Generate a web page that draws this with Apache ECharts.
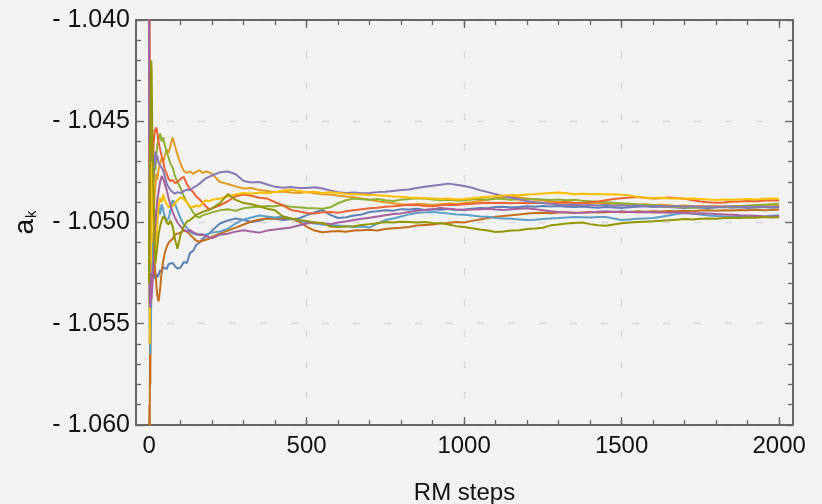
<!DOCTYPE html>
<html><head><meta charset="utf-8">
<script src="https://cdn.jsdelivr.net/npm/echarts@6/dist/echarts.min.js"></script>
<style>html,body{margin:0;padding:0;background:#f2f2f2}#c{width:822px;height:504px}</style>
</head><body><div id="c"></div>
<script>
// ---------- data ----------
const STEPS = [0,1,2,3,4,5,6,7,8,9,10,12,14,16,18,20,23,26,30,35,40,45,50,56,62,68,75,82,90,100,110,120,130,140,150,160,170,180,190,200,
225,250,275,300,325,350,375,400,425,450,475,500,525,550,575,600,625,650,675,700,725,750,775,800,825,850,875,900,925,950,975,1000,
1025,1050,1075,1100,1125,1150,1175,1200,1225,1250,1275,1300,1325,1350,1375,1400,1425,1450,1475,1500,1525,1550,1575,1600,1625,1650,
1675,1700,1725,1750,1775,1800,1825,1850,1875,1900,1925,1950,1975,2000];

const X_LABELS = [0,500,1000,1500,2000];
const X_MINOR = [0,100,200,300,400,500,600,700,800,900,1000,1100,1200,1300,1400,1500,1600,1700,1800,1900,2000];
const X_GRID = [500,1000,1500];
const Y_MIN = -1.060, Y_MAX = -1.040, Y_STEP = 0.005;

const BLUE = [-1.03500,-1.04400,-1.05200,-1.05700,-1.05480,-1.05350,-1.05300,-1.05270,-1.05290,-1.05250,
-1.05280,-1.05260,-1.05240,-1.05270,-1.05250,-1.05280,-1.05255,-1.05270,-1.05260,-1.05235,
-1.05245,-1.05220,-1.05215,-1.05230,-1.05205,-1.05212,-1.05200,-1.05215,-1.05228,-1.05222,
-1.05195,-1.05200,-1.05150,-1.05140,-1.05110,-1.05100,-1.05080,-1.05070,-1.05055,-1.05040,
-1.05005,-1.04990,-1.04980,-1.04988,-1.04997,-1.04992,-1.04978,-1.04982,-1.04988,-1.04984,
-1.04980,-1.04965,-1.04950,-1.04938,-1.04962,-1.04978,-1.04974,-1.04965,-1.04960,-1.04948,
-1.04945,-1.04940,-1.04942,-1.04934,-1.04936,-1.04932,-1.04938,-1.04935,-1.04937,-1.04933,
-1.04938,-1.04936,-1.04932,-1.04928,-1.04930,-1.04924,-1.04922,-1.04926,-1.04923,-1.04920,
-1.04922,-1.04918,-1.04921,-1.04919,-1.04922,-1.04924,-1.04921,-1.04925,-1.04927,-1.04924,
-1.04926,-1.04928,-1.04925,-1.04922,-1.04920,-1.04923,-1.04921,-1.04924,-1.04926,-1.04928,
-1.04925,-1.04927,-1.04929,-1.04926,-1.04924,-1.04927,-1.04925,-1.04928,-1.04926,-1.04924,
-1.04927,-1.04925];

const ORANGE = [-1.04700,-1.05150,-1.04650,-1.04950,-1.04800,-1.05100,-1.04900,-1.05000,-1.04850,-1.04960,
-1.04890,-1.04940,-1.04980,-1.04910,-1.04860,-1.04820,-1.04760,-1.04790,-1.04740,-1.04710,
-1.04680,-1.04700,-1.04670,-1.04640,-1.04655,-1.04620,-1.04580,-1.04620,-1.04665,-1.04710,
-1.04745,-1.04755,-1.04748,-1.04760,-1.04750,-1.04742,-1.04755,-1.04748,-1.04752,-1.04760,
-1.04800,-1.04810,-1.04822,-1.04832,-1.04830,-1.04840,-1.04845,-1.04850,-1.04847,-1.04852,
-1.04854,-1.04850,-1.04855,-1.04860,-1.04862,-1.04868,-1.04872,-1.04875,-1.04882,-1.04888,
-1.04895,-1.04900,-1.04905,-1.04910,-1.04912,-1.04908,-1.04910,-1.04914,-1.04910,-1.04906,
-1.04908,-1.04904,-1.04900,-1.04894,-1.04888,-1.04880,-1.04874,-1.04870,-1.04876,-1.04882,
-1.04888,-1.04892,-1.04896,-1.04900,-1.04898,-1.04902,-1.04904,-1.04902,-1.04905,-1.04908,
-1.04906,-1.04910,-1.04908,-1.04912,-1.04910,-1.04914,-1.04912,-1.04915,-1.04918,-1.04916,
-1.04920,-1.04918,-1.04921,-1.04919,-1.04922,-1.04920,-1.04918,-1.04921,-1.04919,-1.04917,
-1.04920,-1.04918];

const GREEN = [-1.05200,-1.04700,-1.05400,-1.04900,-1.05150,-1.04800,-1.05050,-1.04850,-1.04950,-1.04750,
-1.04880,-1.04800,-1.04720,-1.04780,-1.04700,-1.04740,-1.04670,-1.04620,-1.04590,-1.04560,
-1.04600,-1.04580,-1.04620,-1.04650,-1.04680,-1.04710,-1.04730,-1.04770,-1.04800,-1.04830,
-1.04870,-1.04900,-1.04925,-1.04950,-1.04970,-1.04975,-1.04965,-1.04960,-1.04955,-1.04950,
-1.04940,-1.04935,-1.04942,-1.04930,-1.04925,-1.04922,-1.04918,-1.04920,-1.04915,-1.04922,
-1.04925,-1.04928,-1.04930,-1.04932,-1.04925,-1.04905,-1.04890,-1.04882,-1.04885,-1.04888,
-1.04884,-1.04890,-1.04894,-1.04888,-1.04884,-1.04880,-1.04882,-1.04886,-1.04890,-1.04888,
-1.04892,-1.04890,-1.04887,-1.04884,-1.04886,-1.04882,-1.04884,-1.04888,-1.04885,-1.04887,
-1.04884,-1.04886,-1.04889,-1.04887,-1.04890,-1.04888,-1.04892,-1.04895,-1.04898,-1.04900,
-1.04903,-1.04905,-1.04907,-1.04910,-1.04912,-1.04914,-1.04918,-1.04922,-1.04924,-1.04925,
-1.04927,-1.04924,-1.04922,-1.04924,-1.04921,-1.04923,-1.04920,-1.04916,-1.04914,-1.04912,
-1.04910,-1.04908];

const RED = [-1.04100,-1.03800,-1.04300,-1.04500,-1.04200,-1.04400,-1.04700,-1.04450,-1.04600,-1.04800,
-1.04650,-1.04750,-1.04620,-1.04580,-1.04540,-1.04550,-1.04530,-1.04560,-1.04600,-1.04640,
-1.04670,-1.04700,-1.04740,-1.04760,-1.04785,-1.04795,-1.04790,-1.04805,-1.04800,-1.04785,
-1.04775,-1.04810,-1.04835,-1.04850,-1.04872,-1.04885,-1.04902,-1.04920,-1.04935,-1.04930,
-1.04915,-1.04895,-1.04870,-1.04862,-1.04868,-1.04878,-1.04882,-1.04900,-1.04915,-1.04938,
-1.04945,-1.04953,-1.04956,-1.04950,-1.04948,-1.04952,-1.04945,-1.04940,-1.04935,-1.04930,
-1.04927,-1.04922,-1.04920,-1.04916,-1.04912,-1.04914,-1.04918,-1.04920,-1.04915,-1.04912,
-1.04914,-1.04910,-1.04908,-1.04905,-1.04903,-1.04904,-1.04902,-1.04905,-1.04903,-1.04905,
-1.04902,-1.04904,-1.04906,-1.04903,-1.04901,-1.04904,-1.04902,-1.04900,-1.04896,-1.04890,
-1.04884,-1.04880,-1.04876,-1.04874,-1.04878,-1.04882,-1.04880,-1.04877,-1.04879,-1.04883,
-1.04890,-1.04896,-1.04900,-1.04903,-1.04901,-1.04898,-1.04896,-1.04894,-1.04895,-1.04892,
-1.04890,-1.04891];

const PURPLE = [-1.04900,-1.04500,-1.05300,-1.04800,-1.05100,-1.04650,-1.04950,-1.04750,-1.04900,-1.04700,
-1.04820,-1.04740,-1.04800,-1.04680,-1.04720,-1.04650,-1.04690,-1.04670,-1.04705,-1.04700,
-1.04730,-1.04745,-1.04770,-1.04810,-1.04825,-1.04840,-1.04850,-1.04858,-1.04850,-1.04855,
-1.04845,-1.04838,-1.04840,-1.04828,-1.04820,-1.04808,-1.04795,-1.04782,-1.04775,-1.04768,
-1.04752,-1.04748,-1.04762,-1.04795,-1.04802,-1.04800,-1.04812,-1.04824,-1.04828,-1.04825,
-1.04830,-1.04830,-1.04826,-1.04832,-1.04842,-1.04850,-1.04854,-1.04852,-1.04856,-1.04854,
-1.04850,-1.04848,-1.04844,-1.04840,-1.04837,-1.04830,-1.04824,-1.04818,-1.04814,-1.04808,
-1.04814,-1.04820,-1.04828,-1.04840,-1.04850,-1.04860,-1.04870,-1.04878,-1.04885,-1.04895,
-1.04900,-1.04904,-1.04908,-1.04912,-1.04914,-1.04912,-1.04915,-1.04913,-1.04916,-1.04914,
-1.04917,-1.04915,-1.04918,-1.04916,-1.04919,-1.04920,-1.04918,-1.04921,-1.04919,-1.04922,
-1.04920,-1.04923,-1.04921,-1.04924,-1.04922,-1.04920,-1.04923,-1.04921,-1.04924,-1.04922,
-1.04923,-1.04922];

const DARK_ORANGE = [-1.06200,-1.05900,-1.06100,-1.05600,-1.05800,-1.05400,-1.05500,-1.05300,-1.05350,-1.05200,
-1.05300,-1.05150,-1.05250,-1.05100,-1.05200,-1.05250,-1.05300,-1.05360,-1.05390,-1.05330,
-1.05240,-1.05190,-1.05150,-1.05120,-1.05100,-1.05090,-1.05080,-1.05060,-1.05055,-1.05050,
-1.05040,-1.05045,-1.05060,-1.05075,-1.05090,-1.05095,-1.05090,-1.05085,-1.05080,-1.05070,
-1.05055,-1.05040,-1.05025,-1.05010,-1.04995,-1.04985,-1.04980,-1.04982,-1.04978,-1.04980,
-1.04995,-1.05020,-1.05040,-1.05048,-1.05045,-1.05042,-1.05046,-1.05040,-1.05038,-1.05036,
-1.05040,-1.05032,-1.05028,-1.05026,-1.05022,-1.05015,-1.05012,-1.05010,-1.05004,-1.05002,
-1.04998,-1.05000,-1.04992,-1.04985,-1.04978,-1.04972,-1.04968,-1.04964,-1.04960,-1.04956,
-1.04953,-1.04952,-1.04954,-1.04951,-1.04949,-1.04952,-1.04950,-1.04948,-1.04951,-1.04949,
-1.04947,-1.04950,-1.04948,-1.04945,-1.04947,-1.04944,-1.04946,-1.04943,-1.04945,-1.04942,
-1.04944,-1.04941,-1.04940,-1.04942,-1.04939,-1.04941,-1.04938,-1.04940,-1.04937,-1.04939,
-1.04938,-1.04936];

const LIGHT_BLUE = [-1.04800,-1.05300,-1.05600,-1.05400,-1.05650,-1.05300,-1.05500,-1.05200,-1.05350,-1.05100,
-1.05200,-1.05050,-1.05150,-1.04950,-1.05080,-1.05000,-1.04940,-1.04980,-1.04920,-1.04960,
-1.04910,-1.04940,-1.04970,-1.04990,-1.04980,-1.04940,-1.04890,-1.04905,-1.04940,-1.04980,
-1.05010,-1.05025,-1.05045,-1.05055,-1.05060,-1.05058,-1.05062,-1.05060,-1.05055,-1.05050,
-1.05045,-1.05030,-1.05005,-1.04985,-1.04975,-1.04965,-1.04970,-1.04975,-1.04970,-1.04980,
-1.04990,-1.05000,-1.05005,-1.05010,-1.05012,-1.05015,-1.05018,-1.05022,-1.05020,-1.05025,
-1.05005,-1.04988,-1.04980,-1.04970,-1.04960,-1.04953,-1.04950,-1.04948,-1.04952,-1.04955,
-1.04960,-1.04962,-1.04965,-1.04970,-1.04972,-1.04978,-1.04980,-1.04982,-1.04985,-1.04988,
-1.04986,-1.04983,-1.04980,-1.04978,-1.04975,-1.04973,-1.04974,-1.04975,-1.04973,-1.04973,
-1.04980,-1.04988,-1.04985,-1.04982,-1.04980,-1.04978,-1.04972,-1.04965,-1.04958,-1.04953,
-1.04955,-1.04960,-1.04965,-1.04968,-1.04970,-1.04972,-1.04973,-1.04973,-1.04972,-1.04970,
-1.04967,-1.04964];

const YELLOW = [-1.05300,-1.04600,-1.05600,-1.05000,-1.05400,-1.04700,-1.05200,-1.04850,-1.05100,-1.04750,
-1.04900,-1.04700,-1.04850,-1.05050,-1.05150,-1.05200,-1.05100,-1.05000,-1.04920,-1.04880,
-1.04900,-1.04860,-1.04890,-1.04910,-1.04925,-1.04915,-1.04920,-1.04905,-1.04890,-1.04875,
-1.04885,-1.04900,-1.04920,-1.04925,-1.04915,-1.04922,-1.04905,-1.04890,-1.04895,-1.04888,
-1.04882,-1.04872,-1.04862,-1.04854,-1.04858,-1.04852,-1.04855,-1.04850,-1.04842,-1.04838,
-1.04845,-1.04850,-1.04848,-1.04854,-1.04850,-1.04854,-1.04858,-1.04860,-1.04862,-1.04864,
-1.04866,-1.04868,-1.04872,-1.04873,-1.04876,-1.04878,-1.04880,-1.04882,-1.04884,-1.04882,
-1.04886,-1.04884,-1.04880,-1.04876,-1.04873,-1.04870,-1.04867,-1.04864,-1.04866,-1.04862,
-1.04860,-1.04857,-1.04854,-1.04852,-1.04856,-1.04860,-1.04858,-1.04861,-1.04859,-1.04862,
-1.04860,-1.04863,-1.04866,-1.04874,-1.04878,-1.04880,-1.04878,-1.04882,-1.04880,-1.04883,
-1.04881,-1.04884,-1.04887,-1.04889,-1.04887,-1.04888,-1.04886,-1.04884,-1.04886,-1.04883,
-1.04882,-1.04883];

const MAGENTA = [-1.03900,-1.05200,-1.05350,-1.05420,-1.05300,-1.05400,-1.05360,-1.05250,-1.05380,-1.05300,
-1.05330,-1.05260,-1.05200,-1.05120,-1.05060,-1.05000,-1.04940,-1.04890,-1.04850,-1.04800,
-1.04770,-1.04785,-1.04810,-1.04840,-1.04880,-1.04915,-1.04950,-1.04975,-1.05000,-1.05020,
-1.05035,-1.05045,-1.05038,-1.05048,-1.05055,-1.05062,-1.05058,-1.05066,-1.05072,-1.05078,
-1.05060,-1.05055,-1.05045,-1.05038,-1.05045,-1.05050,-1.05040,-1.05035,-1.05030,-1.05025,
-1.05015,-1.05005,-1.05000,-1.05005,-1.05008,-1.05000,-1.04995,-1.04988,-1.04982,-1.04976,
-1.04970,-1.04964,-1.04958,-1.04955,-1.04948,-1.04942,-1.04938,-1.04934,-1.04928,-1.04932,
-1.04936,-1.04938,-1.04936,-1.04934,-1.04932,-1.04936,-1.04938,-1.04935,-1.04932,-1.04930,
-1.04934,-1.04940,-1.04945,-1.04948,-1.04950,-1.04953,-1.04952,-1.04950,-1.04947,-1.04945,
-1.04948,-1.04945,-1.04948,-1.04950,-1.04948,-1.04951,-1.04950,-1.04952,-1.04950,-1.04953,
-1.04955,-1.04954,-1.04956,-1.04958,-1.04960,-1.04962,-1.04964,-1.04965,-1.04967,-1.04969,
-1.04970,-1.04969];

const OLIVE = [-1.05300,-1.04800,-1.05100,-1.04600,-1.04700,-1.04400,-1.04220,-1.04200,-1.04240,-1.04400,
-1.04550,-1.04700,-1.04850,-1.05000,-1.05150,-1.05200,-1.05160,-1.05120,-1.05060,-1.05020,
-1.04990,-1.04970,-1.04980,-1.05000,-1.05010,-1.04990,-1.05020,-1.05080,-1.05130,-1.05060,
-1.05020,-1.04995,-1.04988,-1.04975,-1.04962,-1.04955,-1.04948,-1.04942,-1.04938,-1.04930,
-1.04904,-1.04860,-1.04888,-1.04904,-1.04910,-1.04920,-1.04932,-1.04940,-1.04970,-1.04980,
-1.04988,-1.04992,-1.05000,-1.05002,-1.05020,-1.05022,-1.05020,-1.05018,-1.05012,-1.05008,
-1.05004,-1.04998,-1.05000,-1.04996,-1.04998,-1.05000,-1.04998,-1.05002,-1.05004,-1.05010,
-1.05018,-1.05022,-1.05028,-1.05035,-1.05040,-1.05047,-1.05045,-1.05040,-1.05038,-1.05032,
-1.05030,-1.05026,-1.05014,-1.05010,-1.05005,-1.05002,-1.05000,-1.05008,-1.05014,-1.05016,
-1.05010,-1.05004,-1.05000,-1.04998,-1.04996,-1.04994,-1.04991,-1.04989,-1.04986,-1.04983,
-1.04985,-1.04982,-1.04980,-1.04981,-1.04978,-1.04976,-1.04978,-1.04975,-1.04976,-1.04973,
-1.04975,-1.04974];

const SERIES_VALUES = [BLUE, ORANGE, GREEN, RED, PURPLE, DARK_ORANGE, LIGHT_BLUE, YELLOW, MAGENTA, OLIVE];

// ---------- chart ----------
const COLORS = ['#5E81B5','#E19C24','#8FB032','#EB6235','#8778B3','#C56E1A','#5D9EC7','#FFBF00','#A5609D','#929600'];
const FONT = 'Liberation Sans, Arial, sans-serif';
const FRAME = '#666666';
const GRIDLINE = {show: true, lineStyle: {color: '#d8d8d8', width: 1.3, type: [7, 24]}};

const chart = echarts.init(document.getElementById('c'), null, {renderer: 'canvas'});

function xAx(pos, ticks, len, opts) {
  return Object.assign({
    type: 'value', position: pos, min: -41.5, max: 2044, gridIndex: 0,
    axisLine: {show: false},
    axisTick: {show: true, inside: true, length: len, customValues: ticks, lineStyle: {color: FRAME, width: 1.3}},
    axisLabel: {show: false},
    splitLine: {show: false}
  }, opts || {});
}

const option = {
  backgroundColor: '#f2f2f2',
  animation: false,
  grid: {left: 136, right: 29, top: 20, bottom: 79, containLabel: false, outerBoundsMode: 'none'},
  xAxis: [
    xAx('bottom', X_LABELS, 8, {
      axisLine: {show: true, onZero: false, lineStyle: {color: FRAME, width: 2}},
      axisLabel: {show: true, customValues: X_LABELS, margin: 9, color: '#111', fontSize: 24, fontFamily: FONT,
        formatter: v => String(v)},
      name: 'RM steps', nameLocation: 'middle', nameGap: 56,
      nameTextStyle: {color: '#111', fontSize: 24, fontFamily: FONT}
    }),
    xAx('bottom', X_MINOR, 5),
    xAx('bottom', X_GRID, 0, {axisTick: {show: false, customValues: X_GRID}, splitLine: GRIDLINE}),
    xAx('top', X_LABELS, 8, {axisLine: {show: true, onZero: false, lineStyle: {color: FRAME, width: 2}}}),
    xAx('top', X_MINOR, 5)
  ],
  yAxis: [
    {
      type: 'value', position: 'left', min: Y_MIN, max: Y_MAX, interval: Y_STEP,
      axisLine: {show: true, onZero: false, lineStyle: {color: FRAME, width: 2}},
      axisTick: {show: true, inside: true, length: 8, lineStyle: {color: FRAME, width: 1.3}},
      minorTick: {show: true, splitNumber: 5, length: 5, lineStyle: {color: FRAME, width: 1.3}},
      axisLabel: {margin: 6, color: '#111', fontSize: 25, fontFamily: FONT,
        formatter: v => '- ' + Math.abs(v).toFixed(3)},
      splitLine: GRIDLINE,
      name: '{a|a}{k|k}', nameLocation: 'middle', nameRotate: 90, nameGap: 97,
      nameTextStyle: {color: '#111', fontFamily: FONT,
        rich: {a: {fontSize: 28, fontFamily: FONT, color: '#111', verticalAlign: 'bottom'},
               k: {fontSize: 15, fontFamily: FONT, color: '#111', verticalAlign: 'bottom', padding: [0, 0, 0, 1]}}}
    },
    {
      type: 'value', position: 'right', min: Y_MIN, max: Y_MAX, interval: Y_STEP,
      axisLine: {show: true, onZero: false, lineStyle: {color: FRAME, width: 2}},
      axisTick: {show: true, inside: true, length: 8, lineStyle: {color: FRAME, width: 1.3}},
      minorTick: {show: true, splitNumber: 5, length: 5, lineStyle: {color: FRAME, width: 1.3}},
      axisLabel: {show: false},
      splitLine: {show: false}
    }
  ],
  series: SERIES_VALUES.map((vals, i) => ({
    type: 'line',
    xAxisIndex: 0, yAxisIndex: 0,
    data: vals.map((v, j) => [STEPS[j], v]),
    showSymbol: false, symbol: 'none',
    clip: true,
    lineStyle: {color: COLORS[i], width: 2},
    itemStyle: {color: COLORS[i]},
    z: 2 + i
  }))
};
chart.setOption(option);
</script>
</body></html>
